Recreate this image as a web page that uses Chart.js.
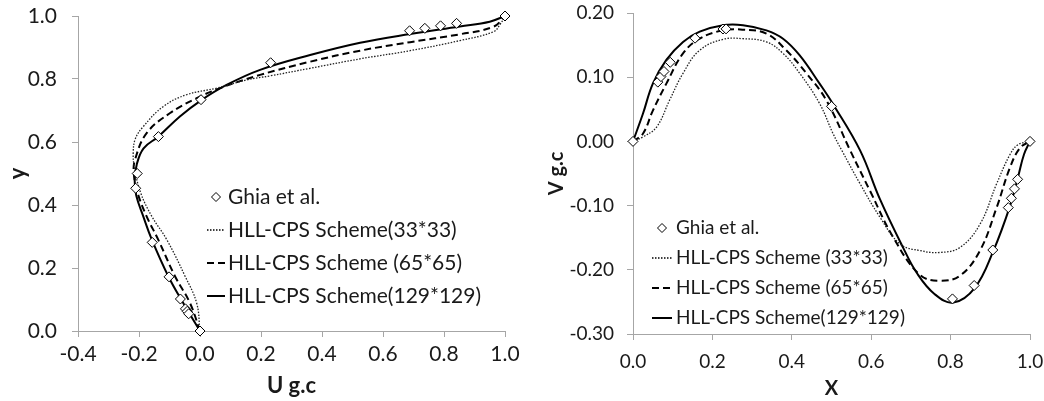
<!DOCTYPE html>
<html lang="en">

<head>
    <title>Cavity centre lines</title>
    <meta charset="utf-8" />
    <script src="https://cdn.jsdelivr.net/npm/chart.js"></script>
    <style>
        body { margin: 0; background: #fff; }
        .panel { position: absolute; top: 0; }
    </style>
</head>

<body>
    <canvas id="graficoU" class="panel" width="520" height="401" style="left:0"></canvas>
    <canvas id="graficoV" class="panel" width="524" height="401" style="left:520px"></canvas>

    <script>
        // --- U along the vertical centre line (y) ---
        const ghiaY = [1.0, 0.9766, 0.9688, 0.9609, 0.9531, 0.8516, 0.7344, 0.6172, 0.5, 0.4531, 0.2813, 0.1719, 0.1016, 0.0703, 0.0625, 0.0547, 0.0];
        const ghiaU = [1.0, 0.84123, 0.78871, 0.73722, 0.68717, 0.23151, 0.00332, -0.13641, -0.20581, -0.21090, -0.15662, -0.10150, -0.06434, -0.04775, -0.04192, -0.03717, 0.0];

        const u33 = [0, -0.011, -0.049, -0.109, -0.158, -0.195, -0.215, -0.219, -0.212, -0.186, -0.12, -0.044, 0.055, 0.153, 0.23, 0.361, 0.525, 0.689, 0.852, 0.962, 0.985, 1.0];
        const y33 = [0, 0.089, 0.174, 0.29, 0.364, 0.44, 0.52, 0.565, 0.61, 0.649, 0.713, 0.75, 0.771, 0.797, 0.81, 0.834, 0.864, 0.89, 0.922, 0.95, 0.975, 1.0];

        const u65 = [0, -0.033, -0.082, -0.137, -0.175, -0.205, -0.217, -0.213, -0.175, -0.098, -0.011, 0.066, 0.197, 0.361, 0.525, 0.689, 0.852, 0.962, 1.0];
        const y65 = [0, 0.089, 0.174, 0.29, 0.364, 0.44, 0.5, 0.544, 0.628, 0.692, 0.739, 0.771, 0.813, 0.855, 0.89, 0.917, 0.942, 0.966, 1.0];

        const u129 = [0, -0.055, -0.104, -0.158, -0.186, -0.209, -0.214, -0.207, -0.185, -0.137, -0.066, 0, 0.087, 0.197, 0.361, 0.525, 0.689, 0.852, 0.95, 1.0];
        const y129 = [0, 0.089, 0.174, 0.29, 0.364, 0.43, 0.48, 0.53, 0.58, 0.617, 0.681, 0.73, 0.781, 0.829, 0.876, 0.915, 0.943, 0.967, 0.982, 1.0];

        const uTicks = [-0.4, -0.2, 0, 0.2, 0.4, 0.6, 0.8, 1.0];
        const yTicks = [0, 0.2, 0.4, 0.6, 0.8, 1.0];

        // --- V along the horizontal centre line (x) ---
        const ghiaX = [0, 0.0625, 0.0703, 0.0781, 0.0938, 0.1563, 0.2266, 0.2344, 0.5, 0.8047, 0.8594, 0.9063, 0.9453, 0.9531, 0.9609, 0.9688, 1.0];
        const ghiaV = [0, 0.09233, 0.10091, 0.1089, 0.12317, 0.16077, 0.17507, 0.17527, 0.05454, -0.24533, -0.22445, -0.16914, -0.10313, -0.08864, -0.07391, -0.05906, 0];

        const x33 = [0, 0.025, 0.059, 0.092, 0.126, 0.168, 0.227, 0.277, 0.336, 0.378, 0.42, 0.47, 0.504, 0.526, 0.572, 0.622, 0.673, 0.723, 0.773, 0.824, 0.874, 0.916, 0.95, 0.97, 1.0];
        const v33 = [0, 0.007, 0.022, 0.064, 0.106, 0.142, 0.159, 0.16, 0.155, 0.137, 0.106, 0.059, 0.012, -0.014, -0.066, -0.118, -0.16, -0.17, -0.173, -0.165, -0.129, -0.066, -0.02, -0.005, 0];

        const x65 = [0, 0.025, 0.05, 0.084, 0.126, 0.168, 0.227, 0.277, 0.336, 0.386, 0.437, 0.487, 0.547, 0.597, 0.656, 0.723, 0.773, 0.824, 0.874, 0.916, 0.95, 0.975, 1.0];
        const v65 = [0, 0.012, 0.048, 0.09, 0.137, 0.16, 0.173, 0.174, 0.168, 0.142, 0.106, 0.064, -0.014, -0.077, -0.15, -0.208, -0.217, -0.209, -0.17, -0.103, -0.04, -0.01, 0];

        const x129 = [0, 0.025, 0.05, 0.084, 0.126, 0.168, 0.227, 0.277, 0.336, 0.378, 0.42, 0.47, 0.504, 0.572, 0.622, 0.68, 0.715, 0.76, 0.807, 0.861, 0.908, 0.95, 0.97, 0.985, 1.0];
        const v129 = [0, 0.043, 0.09, 0.127, 0.155, 0.171, 0.181, 0.181, 0.173, 0.16, 0.134, 0.09, 0.058, -0.014, -0.09, -0.165, -0.205, -0.238, -0.251, -0.228, -0.17, -0.1, -0.055, -0.02, 0];

        const xTicks = [0, 0.2, 0.4, 0.6, 0.8, 1.0];
        const vTicks = [-0.3, -0.2, -0.1, 0, 0.1, 0.2];

        Chart.defaults.font.family = 'Lato';
        Chart.defaults.color = '#1a1a1a';

        const pts = (a, b) => a.map((v, i) => ({ x: v, y: b[i] }));
        const fmt = (v, d) => (Math.abs(v) < 1e-9 ? 0 : v).toFixed(d);

        // legend drawn inside the plot, the way the spreadsheet placed it
        const leyenda = {
            id: 'leyenda',
            afterDatasetsDraw(chart, args, o) {
                const ctx = chart.ctx;
                ctx.save();
                ctx.font = o.size + 'px Lato';
                ctx.textBaseline = 'middle';
                ctx.fillStyle = '#1a1a1a';
                ctx.strokeStyle = '#000';
                chart.data.datasets.forEach((ds, i) => {
                    const y = o.top + i * o.gap;
                    if (ds.showLine === false) {
                        const cx = o.left + o.sample / 2, r = 4.5;
                        ctx.lineWidth = 1;
                        ctx.setLineDash([]);
                        ctx.beginPath();
                        ctx.moveTo(cx, y - r); ctx.lineTo(cx + r, y); ctx.lineTo(cx, y + r); ctx.lineTo(cx - r, y);
                        ctx.closePath();
                        ctx.stroke();
                    } else {
                        ctx.lineWidth = ds.borderWidth;
                        ctx.setLineDash(ds.borderDash || []);
                        ctx.beginPath();
                        ctx.moveTo(o.left, y);
                        ctx.lineTo(o.left + o.sample, y);
                        ctx.stroke();
                    }
                    ctx.setLineDash([]);
                    ctx.fillText(ds.label, o.left + o.sample + o.space, y);
                });
                ctx.restore();
            }
        };

        function series(labels, ghia, s33, s65, s129) {
            const line = { showLine: true, pointRadius: 0, borderColor: '#000', tension: 0.4 };
            return [
                { label: labels[0], data: ghia, showLine: false, clip: false, pointStyle: 'rectRot', pointRadius: 5, pointBorderWidth: 1, borderColor: '#000', backgroundColor: '#fff' },
                { ...line, label: labels[1], data: s33, borderWidth: 1.3, borderDash: [1.5, 1.5], borderColor: '#222' },
                { ...line, label: labels[2], data: s65, borderWidth: 2, borderDash: [7, 4] },
                { ...line, label: labels[3], data: s129, borderWidth: 2 }
            ];
        }

        function axis(ticks, dec, title, o) {
            return {
                type: 'linear',
                min: ticks[0],
                max: ticks[ticks.length - 1],
                afterBuildTicks: s => { s.ticks = ticks.map(v => ({ value: v })); },
                afterFit: s => {
                    if (s.isHorizontal()) s.height = o.size; else s.width = o.size;
                    // the plot box is fixed by layout.padding, labels may overhang it
                    s.paddingTop = s.paddingBottom = s.paddingLeft = s.paddingRight = 0;
                },
                ticks: { callback: v => fmt(v, dec), font: { size: o.fs }, padding: o.pad, maxRotation: 0, autoSkip: false },
                grid: { drawOnChartArea: false, tickLength: 6, color: '#a6a6a6' },
                border: { color: '#a6a6a6' },
                title: { display: true, text: title, font: { size: o.ts, weight: 'bold' }, padding: o.tpad }
            };
        }

        new Chart(document.getElementById('graficoU'), {
            type: 'scatter',
            data: {
                datasets: series(['Ghia et al.', 'HLL-CPS Scheme(33*33)', 'HLL-CPS Scheme (65*65)', 'HLL-CPS Scheme(129*129)'],
                    pts(ghiaU, ghiaY), pts(u33, y33), pts(u65, y65), pts(u129, y129))
            },
            options: {
                responsive: false,
                animation: false,
                layout: { padding: { top: 16, right: 15 } },
                plugins: {
                    legend: { display: false },
                    tooltip: { enabled: false },
                    leyenda: { left: 207, top: 197, gap: 33, sample: 18, space: 3, size: 21 }
                },
                scales: {
                    x: axis(uTicks, 1, 'U g.c', { size: 70, fs: 21, pad: 5, ts: 22, tpad: { top: 0, bottom: 2 } }),
                    y: axis(yTicks, 1, 'y', { size: 78, fs: 21, pad: 15, ts: 22, tpad: { top: 5, bottom: 0 } })
                }
            },
            plugins: [leyenda]
        });

        new Chart(document.getElementById('graficoV'), {
            type: 'scatter',
            data: {
                datasets: series(['Ghia et al.', 'HLL-CPS Scheme (33*33)', 'HLL-CPS Scheme (65*65)', 'HLL-CPS Scheme(129*129)'],
                    pts(ghiaX, ghiaV), pts(x33, v33), pts(x65, v65), pts(x129, v129))
            },
            options: {
                responsive: false,
                animation: false,
                layout: { padding: { top: 13, right: 14 } },
                plugins: {
                    legend: { display: false },
                    tooltip: { enabled: false },
                    leyenda: { left: 132, top: 228, gap: 30, sample: 20, space: 4, size: 19 }
                },
                scales: {
                    x: axis(xTicks, 1, 'X', { size: 67, fs: 19, pad: 10, ts: 20, tpad: { top: 0, bottom: 0 } }),
                    y: axis(vTicks, 2, 'V g.c', { size: 113, fs: 19, pad: 13, ts: 20, tpad: { top: 25, bottom: 0 } })
                }
            },
            plugins: [leyenda]
        });
    </script>
</body>

</html>
